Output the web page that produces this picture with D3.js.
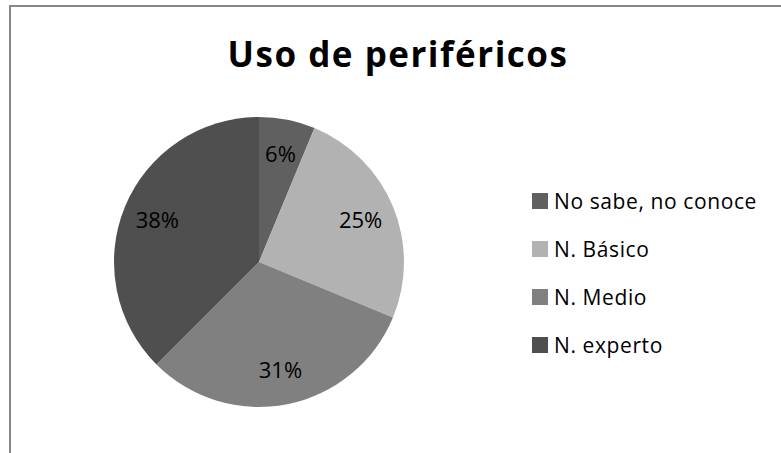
<!DOCTYPE html>
<html>
<head>
<meta charset="utf-8">
<script src="https://cdn.jsdelivr.net/npm/d3@7"></script>
<style>
  body { margin: 0; background: #fff; }
  text { font-family: "Open Sans", sans-serif; }
</style>
</head>
<body>
<svg width="781" height="453"></svg>
<script>
var categories = ["No sabe, no conoce", "N. Básico", "N. Medio", "N. experto"];
var values = [1, 4, 5, 6];
var colors = ["#606060", "#b2b2b2", "#808080", "#4f4f4f"];
var title = "Uso de periféricos";

var svg = d3.select("svg"),
    wth = +svg.attr("width"),
    hgt = +svg.attr("height");

// chart area border (cut off on right / bottom like the original)
svg.append("rect")
   .attr("x", 10).attr("y", 6)
   .attr("width", 900).attr("height", 600)
   .attr("fill", "none")
   .attr("stroke", "#878787")
   .attr("stroke-width", 2);

svg.append("text")
   .attr("x", 398).attr("y", 67)
   .attr("text-anchor", "middle")
   .style("font-size", "35px")
   .style("font-weight", "bold")
   .style("letter-spacing", "1.5px")
   .attr("fill", "#000")
   .text(title);

var rad = 145;
var g = svg.append("g")
           .attr("transform", "translate(259,262)");

var pie = d3.pie().sort(null);
var total = d3.sum(values);
var arc1 = d3.arc().outerRadius(rad).innerRadius(0);
var lbl = d3.arc().outerRadius(110).innerRadius(110);

var arcs = g.selectAll(".arc")
            .data(pie(values))
            .enter().append("g")
            .attr("class", "arc");
arcs.append("path")
    .attr("d", arc1)
    .attr("fill", (d, i) => colors[i]);
arcs.append("text")
    .attr("transform", d => "translate(" + lbl.centroid(d) + ")")
    .attr("text-anchor", "middle")
    .attr("dy", "0.36em")
    .style("font-size", "22px")
    .attr("fill", "#000")
    .text(d => Math.round(d.value / total * 100) + "%");

var leg = svg.append("g").attr("transform", "translate(532,193)");
var rows = leg.selectAll("g")
              .data(categories).enter().append("g")
              .attr("transform", (d, i) => "translate(0," + (i * 48) + ")");
rows.append("rect")
    .attr("width", 16).attr("height", 16)
    .attr("fill", (d, i) => colors[i]);
rows.append("text")
    .attr("x", 22).attr("y", 16)
    .style("font-size", "21px")
    .style("letter-spacing", "0.6px")
    .attr("fill", "#000")
    .text(d => d);
</script>
</body>
</html>
